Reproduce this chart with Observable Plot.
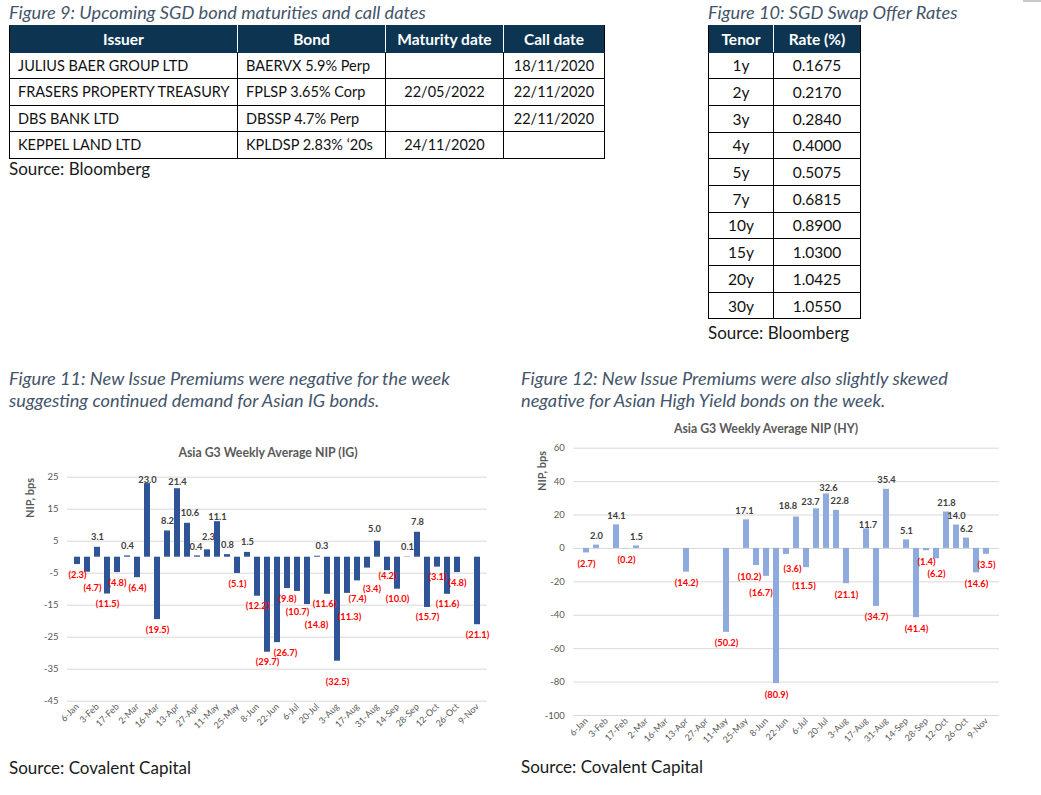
<!DOCTYPE html>
<html><head><meta charset="utf-8">
<script src="https://cdn.jsdelivr.net/npm/d3@7"></script>
<script src="https://cdn.jsdelivr.net/npm/@observablehq/plot@0.6"></script>
<style>
body{margin:0;background:#fff;font-family:Lato,"Open Sans",sans-serif;}
#root{position:relative;width:1041px;height:795px;overflow:hidden;}
.abs{position:absolute;white-space:nowrap;}
.cap{font-style:italic;color:#44546a;font-size:18.2px;line-height:22px;}
.src{font-size:17px;line-height:20px;color:#1a1a1a;}
.ctitle{font-weight:bold;color:#595959;font-size:12.3px;transform:translate(-50%,-50%);}
.ylab{font-weight:bold;color:#595959;font-size:11px;transform:translate(-50%,-50%) rotate(-90deg);}
table{border-collapse:collapse;position:absolute;table-layout:fixed;color:#111;}
td,th{border:1px solid #000;padding:0 8px;box-sizing:border-box;white-space:nowrap;overflow:hidden;}
th{background:#0d3552;color:#fff;font-weight:bold;text-align:center;border-color:#0d3552 #fff #0d3552 #fff;font-size:15.5px;}
th:first-child{border-left-color:#000}
th:last-child{border-right-color:#000}
.t1 td{font-size:14.5px;}
.t2 td{font-size:15.5px;}
.c{text-align:center}
.svgbox{position:absolute;}
.corner{position:absolute;left:1023px;top:0;width:18px;height:2px;background:#c8c8c8;}
</style></head>
<body><div id="root"><div class="corner"></div></div>
<script>
// ---- Figure 9 table ----
const bondHeaders = ["Issuer", "Bond", "Maturity date", "Call date"];
const issuers = ["JULIUS BAER GROUP LTD", "FRASERS PROPERTY TREASURY", "DBS BANK LTD", "KEPPEL LAND LTD"];
const bonds = ["BAERVX 5.9% Perp", "FPLSP 3.65% Corp", "DBSSP 4.7% Perp", "KPLDSP 2.83% \u201820s"];
const maturityDates = ["", "22/05/2022", "", "24/11/2020"];
const callDates = ["18/11/2020", "22/11/2020", "22/11/2020", ""];

// ---- Figure 10 table ----
const swapHeaders = ["Tenor", "Rate (%)"];
const tenors = ["1y", "2y", "3y", "4y", "5y", "7y", "10y", "15y", "20y", "30y"];
const rates = ["0.1675", "0.2170", "0.2840", "0.4000", "0.5075", "0.6815", "0.8900", "1.0300", "1.0425", "1.0550"];

// ---- Weekly NIP charts ----
const weeks = ["6-Jan","20-Jan","3-Feb","10-Feb","17-Feb","24-Feb","2-Mar","9-Mar","16-Mar","6-Apr",
  "13-Apr","20-Apr","27-Apr","4-May","11-May","18-May","25-May","1-Jun","8-Jun","15-Jun",
  "22-Jun","29-Jun","6-Jul","13-Jul","20-Jul","27-Jul","3-Aug","10-Aug","17-Aug","24-Aug",
  "31-Aug","7-Sep","14-Sep","21-Sep","28-Sep","5-Oct","12-Oct","19-Oct","26-Oct","2-Nov","9-Nov"];
const weekTicks = ["6-Jan","3-Feb","17-Feb","2-Mar","16-Mar","13-Apr","27-Apr","11-May","25-May","8-Jun",
  "22-Jun","6-Jul","20-Jul","3-Aug","17-Aug","31-Aug","14-Sep","28-Sep","12-Oct","26-Oct","9-Nov"];
const igNip = [-2.3,-4.7,3.1,-11.5,-4.8,0.4,-6.4,23.0,-19.5,8.2,
  21.4,10.6,0.4,2.3,11.1,0.8,-5.1,1.5,-12.2,-29.7,
  -26.7,-9.8,-10.7,-14.8,0.3,-11.6,-32.5,-11.3,-7.4,-3.4,
  5.0,-4.2,-10.0,0.1,7.8,-15.7,-3.1,-11.6,-4.8,null,-21.1];
const hyNip = [-2.7,2.0,null,14.1,-0.2,1.5,null,null,null,null,
  -14.2,null,null,null,-50.2,null,17.1,-10.2,-16.7,-80.9,
  -3.6,18.8,-11.5,23.7,32.6,22.8,-21.1,null,11.7,-34.7,
  35.4,null,5.1,-41.4,-1.4,-6.2,21.8,14.0,6.2,-14.6,-3.5];
const igTicks = [25,15,5,-5,-15,-25,-35,-45];
const hyTicks = [60,40,20,0,-20,-40,-60,-80,-100];

// label placement tweaks (pixel offsets from the default outside-end position), as in the source chart
const igLabelShift = {
  "20-Jan":[5,6], "9-Mar":[0,6], "13-Apr":[0,3.5], "20-Apr":[2.5,0], "27-Apr":[-1.5,1], "4-May":[1,-3], "11-May":[0,5],
  "22-Jun":[8,0], "6-Jul":[0,10.5], "13-Jul":[9,10], "20-Jul":[4.5,0], "27-Jul":[-3,0],
  "3-Aug":[0,11], "10-Aug":[2,14], "17-Aug":[0,8.5], "24-Aug":[4.5,10.5], "31-Aug":[-3,-2.5], "7-Sep":[0,-4.5]
};
const hyLabelShift = {
  "25-May":[-2,0], "1-Jun":[-7,1], "8-Jun":[-5.5,6], "22-Jun":[6,4], "29-Jun":[-8.5,-2.5],
  "6-Jul":[-2.5,7.5], "13-Jul":[-6,2.5], "20-Jul":[2,3.5], "27-Jul":[3.3,-0.5], "17-Aug":[1.5,5.5], "5-Oct":[0,4]
};

const root = document.getElementById("root");
function addDiv(cls, text, x, y){
  const d = document.createElement("div");
  d.className = "abs " + cls;
  d.textContent = text;
  d.style.left = x + "px"; d.style.top = y + "px";
  root.appendChild(d);
  return d;
}

// captions
addDiv("cap", "Figure 9: Upcoming SGD bond maturities and call dates", 9, 1);
addDiv("cap", "Figure 10: SGD Swap Offer Rates", 708, 1);
addDiv("src", "Source: Bloomberg", 9, 159);
addDiv("src", "Source: Bloomberg", 708, 323);
addDiv("cap", "Figure 11: New Issue Premiums were negative for the week", 9, 367);
addDiv("cap", "suggesting continued demand for Asian IG bonds.", 9, 389);
addDiv("cap", "Figure 12: New Issue Premiums were also slightly skewed", 521, 367);
addDiv("cap", "negative for Asian High Yield bonds on the week.", 521, 389);
addDiv("src", "Source: Covalent Capital", 9, 758);
addDiv("src", "Source: Covalent Capital", 521, 757);

function buildTable(cls, x, y, widths, headers, cols, aligns, rowH, headH){
  const t = document.createElement("table");
  t.className = cls;
  t.style.left = x + "px"; t.style.top = y + "px";
  t.style.width = widths.reduce((a,b)=>a+b,0) + "px";
  const cg = document.createElement("colgroup");
  widths.forEach(w => { const c = document.createElement("col"); c.style.width = w + "px"; cg.appendChild(c); });
  t.appendChild(cg);
  const hr = document.createElement("tr"); hr.style.height = headH + "px";
  headers.forEach(h => { const th = document.createElement("th"); th.textContent = h; hr.appendChild(th); });
  t.appendChild(hr);
  for (let i = 0; i < cols[0].length; i++){
    const tr = document.createElement("tr"); tr.style.height = rowH + "px";
    cols.forEach((c, j) => { const td = document.createElement("td"); td.textContent = c[i]; if (aligns[j]) td.className = aligns[j]; tr.appendChild(td); });
    t.appendChild(tr);
  }
  root.appendChild(t);
}
buildTable("t1", 9, 25, [228,148,118,101], bondHeaders, [issuers, bonds, maturityDates, callDates], ["", "", "c", "c"], 26.5, 26.5);
buildTable("t2", 708, 25, [65,87], swapHeaders, [tenors, rates], ["c","c"], 26.7, 26.5);

// chart titles / y labels
addDiv("ctitle", "Asia G3 Weekly Average NIP (IG)", 268, 452);
addDiv("ctitle", "Asia G3 Weekly Average NIP (HY)", 766, 428);
addDiv("ylab", "NIP, bps", 29, 498);
addDiv("ylab", "NIP, bps", 541, 471);

const fmt = v => v < 0 ? "(" + Math.abs(v).toFixed(1) + ")" : v.toFixed(1);

function nipChart(values, color, ticks, domain, shifts, offPos, offNeg, box){
  const data = weeks.map((w, i) => ({week: w, nip: values[i]})).filter(d => d.nip !== null);
  const labelMarks = data.map(d => {
    const s = shifts[d.week] || [0, 0];
    const neg = d.nip < 0;
    return Plot.text([d], {
      x: "week", y: "nip", text: v => fmt(v.nip),
      dx: s[0], dy: (neg ? offNeg : -offPos) + s[1],
      fill: neg ? "#ff0000" : "#404040", fontWeight: "bold", fontSize: 9.3
    });
  });
  const chart = Plot.plot({
    width: box.w, height: box.h,
    marginLeft: box.ml, marginRight: box.mr, marginTop: box.mt, marginBottom: box.mb,
    style: {fontFamily: "Lato, 'Open Sans', sans-serif", color: "#595959", background: "transparent", overflow: "visible"},
    x: {type: "band", domain: weeks, paddingInner: 0.42, paddingOuter: 0.21, label: null},
    y: {domain, nice: false, label: null},
    marks: [
      Plot.gridY(ticks, {stroke: "#d9d9d9", strokeOpacity: 1, strokeWidth: 1}),
      Plot.axisY(ticks, {tickSize: 0, tickPadding: 9, fontSize: 9.5, tickFormat: d => String(d), label: null}),
      Plot.axisX(weekTicks, {tickSize: 0, tickPadding: 4, tickRotate: -45, fontSize: 9, label: null}),
      Plot.barY(data, {x: "week", y: "nip", fill: color}),
      ...labelMarks
    ]
  });
  const wrap = document.createElement("div");
  wrap.className = "svgbox";
  wrap.style.left = box.x + "px"; wrap.style.top = box.y + "px";
  wrap.appendChild(chart);
  root.appendChild(wrap);
}

nipChart(igNip, "#2f5597", igTicks, [-45, 25], igLabelShift, 10, 10, {x: 0, y: 465, w: 500, h: 290, ml: 67, mr: 13, mt: 11.7, mb: 54.3});
nipChart(hyNip, "#8faadc", hyTicks, [-100, 60], hyLabelShift, 9, 11, {x: 515, y: 440, w: 510, h: 315, ml: 58.3, mr: 26, mt: 7.7, mb: 40});
</script>
</body></html>
